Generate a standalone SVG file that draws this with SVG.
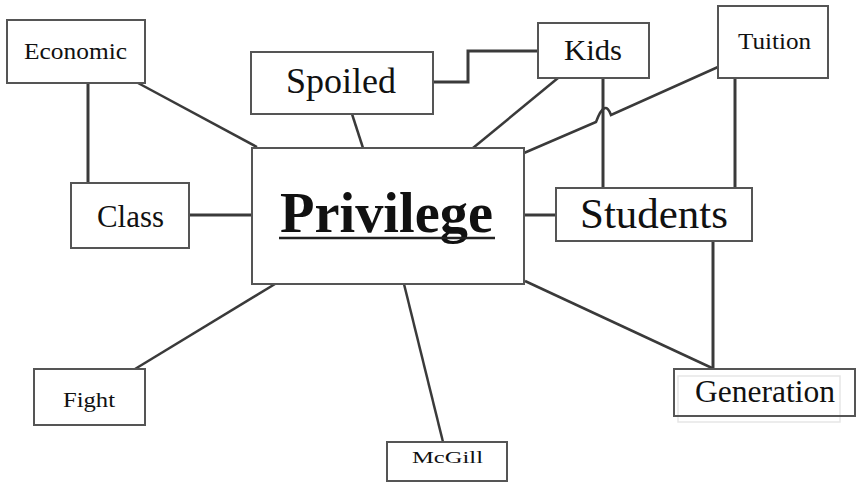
<svg xmlns="http://www.w3.org/2000/svg" width="856" height="483" viewBox="0 0 856 483" font-family="Liberation Serif, Times New Roman, DejaVu Serif, serif">
<style>
.box{fill:#fff;stroke:#555;stroke-width:2}
.ln{fill:none;stroke:#3a3a3a;stroke-width:2.5}
.ghost{fill:none;stroke:#e6e6e6;stroke-width:1.5}
</style>
<rect width="856" height="483" fill="#fff"/>
<g id="connectors">
<line class="ln" x1="88" y1="83" x2="88" y2="183" style="stroke-width:3"/>
<line class="ln" x1="138" y1="83" x2="257" y2="147"/>
<line class="ln" x1="189" y1="215" x2="252" y2="215" style="stroke-width:3"/>
<line class="ln" x1="352" y1="114" x2="363" y2="148"/>
<polyline class="ln" points="433,82 468,82 468,51 538,51" style="stroke-width:3"/>
<line class="ln" x1="558" y1="78" x2="473" y2="148"/>
<line class="ln" x1="603" y1="78" x2="603" y2="188" style="stroke-width:3"/>
<line class="ln" x1="735" y1="78" x2="735" y2="188" style="stroke-width:3"/>
<path class="ln" d="M718,67 L611,115 Q605,98 596,122 L524,153"/>
<line class="ln" x1="524" y1="215" x2="556" y2="215" style="stroke-width:3"/>
<line class="ln" x1="713" y1="241" x2="713" y2="369" style="stroke-width:3"/>
<line class="ln" x1="525" y1="281" x2="712" y2="368"/>
<line class="ln" x1="135" y1="369" x2="275" y2="284"/>
<line class="ln" x1="404" y1="284" x2="443" y2="442"/>
</g>
<g id="economic"><rect class="box" x="7" y="20" width="138" height="63"/><text font-family="Liberation Serif, serif" fill="#111" text-anchor="middle" x="75.5" y="59" font-size="23" textLength="103" lengthAdjust="spacingAndGlyphs">Economic</text></g>
<g id="class"><rect class="box" x="71" y="183" width="118" height="65"/><text font-family="Liberation Serif, serif" fill="#111" text-anchor="middle" x="130.5" y="227" font-size="31" textLength="67" lengthAdjust="spacingAndGlyphs">Class</text></g>
<g id="spoiled"><rect class="box" x="251" y="52" width="182" height="62"/><text font-family="Liberation Serif, serif" fill="#111" text-anchor="middle" x="341" y="93" font-size="35" textLength="110" lengthAdjust="spacingAndGlyphs">Spoiled</text></g>
<g id="kids"><rect class="box" x="538" y="23" width="111" height="55"/><text font-family="Liberation Serif, serif" fill="#111" text-anchor="middle" x="593" y="60" font-size="30" textLength="58" lengthAdjust="spacingAndGlyphs">Kids</text></g>
<g id="tuition"><rect class="box" x="718" y="6" width="110" height="72"/><text font-family="Liberation Serif, serif" fill="#111" text-anchor="middle" x="774.5" y="49" font-size="24" textLength="73" lengthAdjust="spacingAndGlyphs">Tuition</text></g>
<g id="privilege"><rect class="box" x="252" y="148" width="272" height="136"/><text font-family="Liberation Serif, serif" fill="#111" text-anchor="middle" x="386.5" y="232" font-size="56" font-weight="bold" textLength="213" lengthAdjust="spacingAndGlyphs">Privilege</text><line x1="279" y1="238" x2="495" y2="238" stroke="#222" stroke-width="2.5"/></g>
<g id="students"><rect class="box" x="556" y="188" width="196" height="53"/><text font-family="Liberation Serif, serif" fill="#111" text-anchor="middle" x="654" y="228" font-size="43" textLength="148" lengthAdjust="spacingAndGlyphs">Students</text></g>
<g id="fight"><rect class="box" x="34" y="369" width="111" height="56"/><text font-family="Liberation Serif, serif" fill="#111" text-anchor="middle" x="89" y="407" font-size="22" textLength="52" lengthAdjust="spacingAndGlyphs">Fight</text></g>
<g id="mcgill"><rect class="box" x="387" y="442" width="120" height="39"/><text font-family="Liberation Serif, serif" fill="#111" text-anchor="middle" x="447.5" y="463" font-size="16" textLength="71" lengthAdjust="spacingAndGlyphs">McGill</text></g>
<g id="generation"><rect class="ghost" x="678" y="376" width="162" height="46"/><rect class="box" x="674" y="369" width="181" height="47" style="fill:none"/><text font-family="Liberation Serif, serif" fill="#111" text-anchor="middle" x="765" y="402" font-size="31" textLength="140" lengthAdjust="spacingAndGlyphs">Generation</text></g>
</svg>
